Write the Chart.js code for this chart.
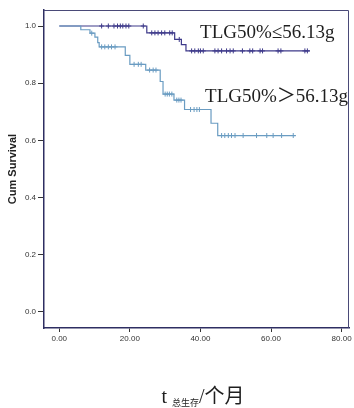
<!DOCTYPE html>
<html>
<head>
<meta charset="utf-8">
<script src="https://cdn.jsdelivr.net/npm/chart.js@4/dist/chart.umd.min.js"></script>
<style>
  html, body { margin: 0; padding: 0; background: #fff; }
  canvas { display: block; }
</style>
</head>
<body>
<canvas id="km" width="354" height="408"></canvas>
<script>
// Axis ticks
const xTicks = [0, 20, 40, 60, 80];
const yTicks = [0, 0.2, 0.4, 0.6, 0.8, 1.0];

// Group TLG50% <= 56.13 g : event times (months) and survival after each event
const lowLabel = 'TLG50%≤56.13g';
const lowEventTimes = [24.8, 32.7, 34.6, 35.9];
const lowEventSurv = [0.976, 0.953, 0.935, 0.913];
const lowCensorTimes = [12.0, 13.9, 15.5, 16.5, 17.3, 18.0, 18.9, 19.7, 23.8,
  26.2, 27.1, 28.0, 29.0, 29.9, 31.3, 32.0, 34.0,
  37.5, 38.4, 39.4, 40.0, 40.8, 44.1, 45.0, 46.0, 47.4, 48.4, 49.3, 51.9,
  54.0, 54.8, 56.9, 57.6, 62.0, 62.8, 69.6, 70.3];
const lowLastTime = 71.0;

// Group TLG50% > 56.13 g
const highLabel = 'TLG50%＞56.13g';
const highEventTimes = [6.1, 8.7, 10.1, 10.9, 11.3, 18.7, 20.0, 24.5, 28.6, 29.4, 32.5, 35.5, 43.0, 44.9];
const highEventSurv = [0.987, 0.975, 0.961, 0.942, 0.927, 0.897, 0.866, 0.846, 0.806, 0.762, 0.741, 0.708, 0.660, 0.617];
const highCensorTimes = [9.2, 12.0, 12.9, 13.9, 14.8, 15.8,
  21.2, 22.4, 23.2, 25.6, 26.6, 27.4, 30.0, 30.6, 31.2, 31.9,
  33.3, 33.9, 34.5, 37.2, 38.2, 39.0, 39.7,
  46.0, 46.9, 47.9, 48.8, 49.8, 52.1, 55.9, 58.8, 60.6, 63.0, 66.3];
const highLastTime = 67.0;

// Kaplan-Meier step path: start at 1.0, one point per event, run flat to the last follow-up
function stepPath(times, surv, last) {
  const pts = [{ x: 0, y: 1 }];
  times.forEach((t, i) => pts.push({ x: t, y: surv[i] }));
  pts.push({ x: last, y: surv[surv.length - 1] });
  return pts;
}
function survivalAt(times, surv, t) {
  let s = 1;
  for (let i = 0; i < times.length; i++) if (times[i] <= t) s = surv[i];
  return s;
}
function censorMarks(times, surv, cens) {
  return cens.map(t => ({ x: t, y: survivalAt(times, surv, t) }));
}

const lowColor = '#3e3a8a';
const highColor = '#6a9cc2';

// Plot frame (top and right edges) and in-plot group labels
const framePlugin = {
  id: 'frame',
  beforeDatasetsDraw(chart) {
    const { ctx, chartArea: a } = chart;
    ctx.save();
    ctx.strokeStyle = '#4a4a78';
    ctx.lineWidth = 1;
    ctx.beginPath();
    ctx.moveTo(a.left, a.top + 0.5);
    ctx.lineTo(a.right - 0.5, a.top + 0.5);
    ctx.lineTo(a.right - 0.5, a.bottom);
    ctx.stroke();
    ctx.restore();
  },
  afterDraw(chart) {
    const { ctx, scales: { x, y } } = chart;
    ctx.save();
    ctx.fillStyle = '#1e1e1e';
    ctx.textBaseline = 'alphabetic';
    ctx.textAlign = 'left';
    ctx.font = '19px "Liberation Serif", "Noto Sans CJK SC", serif';
    ctx.fillText(lowLabel, x.getPixelForValue(39.9), y.getPixelForValue(0.957));
    ctx.fillText(highLabel, x.getPixelForValue(41.3), y.getPixelForValue(0.735));

    // x-axis title: t with subscript 总生存, then /个月
    const big = '20px "Liberation Serif", "Noto Sans CJK SC", serif';
    const small = '9px "Noto Sans CJK SC", sans-serif';
    const base = 403;
    ctx.font = big; const wT = ctx.measureText('t ').width;
    ctx.font = small; const wS = ctx.measureText('总生存').width;
    ctx.font = big; const wM = ctx.measureText('/个月').width;
    let px = 203 - (wT + wS + wM) / 2;
    ctx.font = big; ctx.fillText('t ', px, base); px += wT;
    ctx.font = small; ctx.fillText('总生存', px, base + 3); px += wS;
    ctx.font = big; ctx.fillText('/个月', px, base);
    ctx.restore();
  }
};

new Chart(document.getElementById('km'), {
  type: 'scatter',
  data: {
    datasets: [
      {
        label: lowLabel,
        data: stepPath(lowEventTimes, lowEventSurv, lowLastTime),
        showLine: true, stepped: 'before', order: 2,
        borderColor: lowColor, borderWidth: 1.2, pointRadius: 0
      },
      {
        label: highLabel,
        data: stepPath(highEventTimes, highEventSurv, highLastTime),
        showLine: true, stepped: 'before', order: 1,
        borderColor: highColor, borderWidth: 1.2, pointRadius: 0
      },
      {
        label: lowLabel + ' censored',
        data: censorMarks(lowEventTimes, lowEventSurv, lowCensorTimes),
        showLine: false, pointStyle: 'cross', pointRadius: 2.5, order: 0,
        borderColor: lowColor, borderWidth: 1
      },
      {
        label: highLabel + ' censored',
        data: censorMarks(highEventTimes, highEventSurv, highCensorTimes),
        showLine: false, pointStyle: 'cross', pointRadius: 2.5, order: 0,
        borderColor: highColor, borderWidth: 1
      }
    ]
  },
  options: {
    responsive: false,
    animation: false,
    layout: { padding: { top: 10, right: 5, left: 0, bottom: 0 } },
    plugins: { legend: { display: false }, tooltip: { enabled: false } },
    scales: {
      x: {
        type: 'linear', min: -4.33, max: 82.1,
        afterBuildTicks: s => { s.ticks = xTicks.map(v => ({ value: v })); },
        afterFit: s => { s.height = 80; },
        ticks: {
          callback: v => Number(v).toFixed(2),
          font: { family: 'Liberation Sans', size: 8 }, color: '#333',
          padding: 2, maxRotation: 0
        },
        grid: { drawOnChartArea: false, drawTicks: true, tickLength: 4, color: '#333' },
        border: { display: true, color: '#2e2e62', width: 1.5 }
      },
      y: {
        type: 'linear', min: -0.056, max: 1.056,
        afterBuildTicks: s => { s.ticks = yTicks.map(v => ({ value: v })); },
        afterFit: s => { s.width = 44; },
        ticks: {
          callback: v => Number(v).toFixed(1),
          font: { family: 'Liberation Sans', size: 8 }, color: '#333',
          padding: 2
        },
        grid: { drawOnChartArea: false, drawTicks: true, tickLength: 6, color: '#333' },
        border: { display: true, color: '#2e2e62', width: 1.5 },
        title: {
          display: true, text: 'Cum Survival',
          font: { family: 'Liberation Sans', size: 11, weight: 'bold' },
          color: '#222', padding: { top: 6, bottom: 0 }
        }
      }
    }
  },
  plugins: [framePlugin]
});
</script>
</body>
</html>
